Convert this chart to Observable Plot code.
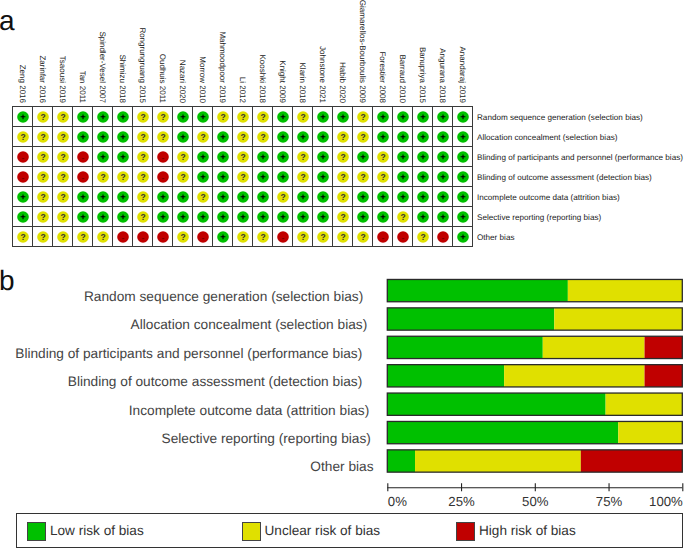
<!DOCTYPE html>
<html>
<head>
<meta charset="utf-8">
<script src="https://cdn.jsdelivr.net/npm/d3@7"></script>
<script src="https://cdn.jsdelivr.net/npm/@observablehq/plot@0.6"></script>
<style>
html,body{margin:0;padding:0;background:#fff;}
#page{position:relative;width:685px;height:550px;overflow:hidden;font-family:"Liberation Sans",Arial,sans-serif;text-rendering:geometricPrecision;}
#page>svg,#page>figure{position:absolute;left:0;margin:0;}
.panel{position:absolute;left:-1px;font-size:28px;line-height:28px;color:#111;}
#legend{position:absolute;left:15.5px;top:513px;width:667.5px;height:35px;border:1.4px solid #333;box-sizing:border-box;}
.sw{position:absolute;top:7.5px;width:19px;height:19px;border:1.3px solid #444;box-sizing:border-box;}
.lt{position:absolute;top:7px;font-size:13.6px;line-height:20px;color:#333;white-space:nowrap;}
</style>
</head>
<body>
<div id="page"></div>
<script>
const studies = ["Zeng 2016","Zarinfar 2016","Tsaousi 2019","Tan 2011","Spindler-Vesel 2007","Shimizu 2018","Rongrungruang 2015","Oudhuis 2011","Nazari 2020","Morrow 2010","Mahmoodpoor 2019","Li 2012","Kooshki 2018","Knight 2009","Klarin 2018","Johnstone 2021","Habib 2020","Giamarellos-Bourboulis 2009","Forestier 2008","Barraud 2010","Banupriya 2015","Angurana 2018","Anandaraj 2019"];
const domains = ["Random sequence generation (selection bias)","Allocation concealment (selection bias)","Blinding of participants and personnel (performance bias)","Blinding of outcome assessment (detection bias)","Incomplete outcome data (attrition bias)","Selective reporting (reporting bias)","Other bias"];
const judgementRows = [
  "+??+++??++???+?++?+++++",
  "???+++??+?+??+++??+++++",
  "-??-++?-?++?++?+?+?++++",
  "-??-???-?++?++?+???++++",
  "+??+++?++?+++?++?++++++",
  "+??+++?+++++++++?++?+++",
  "?????---?-+??-????--?-+"
];
const riskNames = ["Low risk of bias","Unclear risk of bias","High risk of bias"];
const riskColors = ["#00c000","#e0e000","#c00000"];
const lowPct = [61.2,56.6,52.7,39.6,74.0,78.3,9.4];
const unclearPct = [38.8,43.4,34.5,47.6,26.0,21.7,56.2];
const highPct = [0,0,12.8,12.8,0,0,34.4];
const tickValues = [0,25,50,75,100];

const page = document.getElementById("page");
const font = '"Liberation Sans",Arial,sans-serif';
const symbolRisk = {"+":riskNames[0],"?":riskNames[1],"-":riskNames[2]};
const colorOpt = {domain:riskNames, range:riskColors};

const cells = domains.flatMap((d,i)=>studies.map((s,j)=>({study:s,domain:d,sym:judgementRows[i][j],risk:symbolRisk[judgementRows[i][j]]})));

const figA = Plot.plot({
  width:685,height:262,
  marginLeft:12.5,marginRight:212.5,marginTop:106.5,marginBottom:15.5,
  style:{fontFamily:font,background:"transparent",overflow:"visible"},
  x:{domain:studies,padding:0,round:false,label:null},
  y:{domain:domains,padding:0,round:false,label:null},
  color:colorOpt,
  marks:[
    Plot.cell(cells,{x:"study",y:"domain",fill:"#fff",stroke:"#3a3a3a",strokeWidth:1}),
    Plot.dot(cells,{x:"study",y:"domain",r:5.8,fill:"risk"}),
    Plot.text(cells.filter(c=>c.sym==="+"),{x:"study",y:"domain",text:"sym",fill:"#000",fontSize:9.5,fontWeight:"bold"}),
    Plot.text(cells.filter(c=>c.sym==="?"),{x:"study",y:"domain",text:"sym",fill:"#333",fontSize:8.5,fontWeight:"bold"}),
    Plot.text(cells.filter(c=>c.sym==="-"),{x:"study",y:"domain",text:"sym",fill:"#500",fontSize:8.5,dy:1.5}),
    Plot.axisX({anchor:"top",tickSize:0,tickPadding:4,tickRotate:90,textAnchor:"end",lineAnchor:"middle",fontSize:8,fill:"#222",label:null,dx:-0.5}),
    Plot.axisY({anchor:"right",tickSize:0,tickPadding:4,textAnchor:"start",fontSize:8.15,fill:"#222",label:null,tickFormat:d=>d})
  ]
});
figA.style.top="0px";
page.appendChild(figA);

const bars = domains.flatMap((d,i)=>[
  {domain:d,risk:riskNames[0],pct:lowPct[i]},
  {domain:d,risk:riskNames[1],pct:unclearPct[i]},
  {domain:d,risk:riskNames[2],pct:highPct[i]}
]);
const labelShift = [-24.6,-20.6,-25.6,-25.6,-18.6,-17,-14.3];
const figB = Plot.plot({
  width:685,height:212,
  marginLeft:387.3,marginRight:2.7,marginTop:3.35,marginBottom:3.75,
  style:{fontFamily:font,background:"transparent",overflow:"visible"},
  x:{domain:[0,100],axis:null},
  y:{domain:domains,padding:0.215,round:false,axis:null},
  color:colorOpt,
  marks:[
    Plot.barX(bars,Plot.stackX({x:"pct",y:"domain",fill:"risk",order:null})),
    Plot.barX(domains,{x1:()=>0,x2:()=>100,y:d=>d,fill:"none",stroke:"#2a2a2a",strokeWidth:1.3}),
    ...domains.map((d,i)=>Plot.text([d],{x:()=>0,y:v=>v,text:v=>v,textAnchor:"end",dx:labelShift[i],dy:5.6,fontSize:13.7,fill:"#444"}))
  ]
});
figB.style.top="270px";
page.appendChild(figB);

const figC = Plot.plot({
  width:685,height:30,
  marginLeft:387.3,marginRight:2.7,marginTop:3.3,marginBottom:18.7,
  style:{fontFamily:font,background:"transparent",overflow:"visible"},
  x:{domain:[0,100],axis:null},
  y:{domain:[0,1],axis:null},
  marks:[
    Plot.ruleY([0.5],{stroke:"#222",strokeWidth:1.1}),
    Plot.tickX(tickValues,{x:d=>d,stroke:"#222",strokeWidth:1.1}),
    Plot.text(tickValues.slice(0,1),{x:d=>d,text:d=>d+"%",frameAnchor:"bottom",dy:10.4,lineAnchor:"middle",textAnchor:"start",fontSize:13.2,fill:"#333"}),
    Plot.text(tickValues.slice(1,4),{x:d=>d,text:d=>d+"%",frameAnchor:"bottom",dy:10.4,lineAnchor:"middle",textAnchor:"middle",fontSize:13.2,fill:"#333"}),
    Plot.text(tickValues.slice(4),{x:d=>d,text:d=>d+"%",frameAnchor:"bottom",dy:10.4,lineAnchor:"middle",textAnchor:"end",fontSize:13.2,fill:"#333"})
  ]
});
figC.style.top="480px";
page.appendChild(figC);

function addPanel(t,top){const e=document.createElement("div");e.className="panel";e.textContent=t;e.style.top=top+"px";page.appendChild(e);}
addPanel("a",7);addPanel("b",267);

const legend=document.createElement("div");legend.id="legend";
[[10.5,33.5],[225,248],[439.3,462.5]].forEach(([sx,tx],i)=>{
  const s=document.createElement("div");s.className="sw";s.style.left=sx+"px";s.style.background=riskColors[i];legend.appendChild(s);
  const t=document.createElement("div");t.className="lt";t.style.left=tx+"px";t.textContent=riskNames[i];legend.appendChild(t);
});
page.appendChild(legend);
</script>
</body>
</html>
